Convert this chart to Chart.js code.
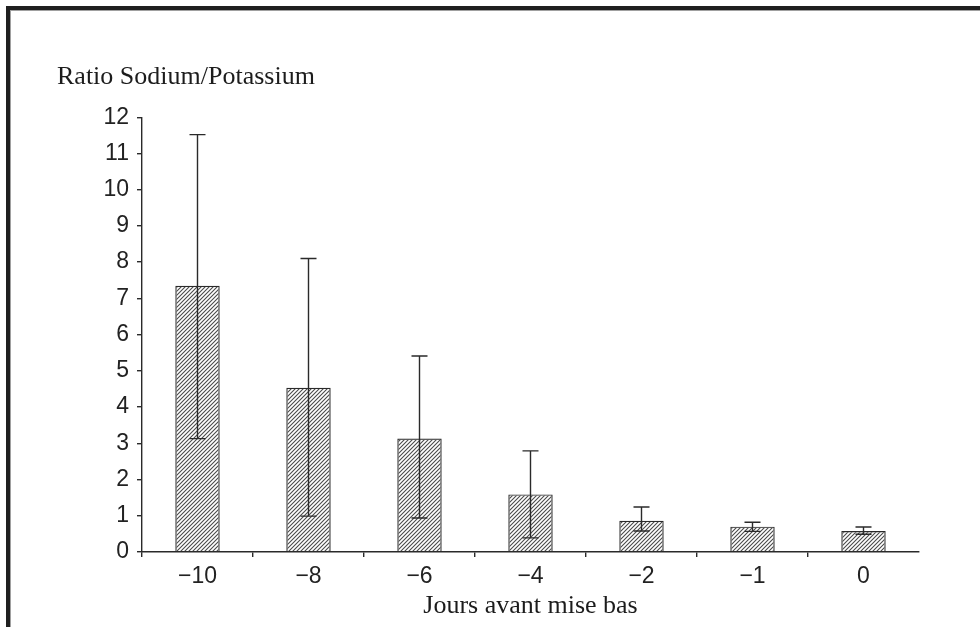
<!DOCTYPE html>
<html lang="fr">
<head>
<meta charset="utf-8">
<title>Ratio Sodium/Potassium</title>
<script src="https://cdn.jsdelivr.net/npm/chart.js@4/dist/chart.umd.min.js"></script>
<style>
  html, body { margin: 0; padding: 0; background: #fff; }
  .wrap { position: relative; width: 980px; height: 627px; overflow: hidden; }
  .frame {
    position: absolute; left: 6px; top: 6px; right: -10px; bottom: -10px;
    border-top: 4px solid #1f1f1f; border-left: 4px solid #1f1f1f;
    box-shadow: inset 1px 1px 0 #a0a0a0;
    pointer-events: none;
  }
  canvas { position: absolute; left: 0; top: 0; }
</style>
</head>
<body>
<div class="wrap">
  <canvas id="ratioChart" width="980" height="627"></canvas>
  <div class="frame"></div>
</div>
<script>
// jours avant mise bas
const days = ['\u221210', '\u22128', '\u22126', '\u22124', '\u22122', '\u22121', '0'];
// moyenne du ratio Na/K
const ratios = [7.35, 4.53, 3.13, 1.59, 0.86, 0.70, 0.58];
// bornes des barres d'erreur
const errHigh = [11.52, 8.10, 5.41, 2.79, 1.24, 0.82, 0.69];
const errLow = [3.13, 0.99, 0.94, 0.39, 0.58, 0.57, 0.49];
const yTicks = [0, 1, 2, 3, 4, 5, 6, 7, 8, 9, 10, 11, 12];

const ink = '#2a2a2a';
const sans = "'Liberation Sans', Arial, Helvetica, sans-serif";
const serif = "'Liberation Serif', 'Times New Roman', serif";

// hachures diagonales pour le remplissage des barres
function hatch() {
  const c = document.createElement('canvas');
  c.width = 4; c.height = 4;
  const g = c.getContext('2d');
  g.strokeStyle = '#4a4a4a';
  g.lineWidth = 1.1;
  g.beginPath();
  g.moveTo(-1, 5); g.lineTo(5, -1);
  g.moveTo(-1, 1); g.lineTo(1, -1);
  g.moveTo(3, 5); g.lineTo(5, 3);
  g.stroke();
  return g.createPattern(c, 'repeat');
}

// barres d'erreur tracées avec les échelles du graphique
const errorBars = {
  id: 'errorBars',
  afterDatasetsDraw(chart) {
    const { ctx, scales: { x, y } } = chart;
    const cap = 8;
    ctx.save();
    ctx.strokeStyle = ink;
    ctx.lineWidth = 1.4;
    days.forEach((d, i) => {
      const cx = x.getPixelForValue(i);
      const top = y.getPixelForValue(errHigh[i]);
      const bot = y.getPixelForValue(errLow[i]);
      ctx.beginPath();
      ctx.moveTo(cx, top); ctx.lineTo(cx, bot);
      ctx.moveTo(cx - cap, top); ctx.lineTo(cx + cap, top);
      ctx.moveTo(cx - cap, bot); ctx.lineTo(cx + cap, bot);
      ctx.stroke();
    });
    ctx.restore();
  }
};

new Chart(document.getElementById('ratioChart'), {
  type: 'bar',
  data: {
    labels: days,
    datasets: [{
      data: ratios,
      backgroundColor: hatch(),
      borderColor: ink,
      borderWidth: 1.2,
      borderSkipped: 'bottom',
      barPercentage: 0.4,
      categoryPercentage: 1
    }]
  },
  options: {
    responsive: false,
    animation: false,
    layout: { padding: { left: 57, right: 61, top: 0, bottom: 0 } },
    plugins: {
      legend: { display: false },
      tooltip: { enabled: false },
      title: {
        display: true,
        text: 'Ratio Sodium/Potassium',
        align: 'start',
        color: '#1c1c1c',
        font: { family: serif, size: 26, weight: 'normal' },
        padding: { top: 62, bottom: 24 }
      }
    },
    scales: {
      x: {
        offset: true,
        grid: {
          offset: true,
          drawOnChartArea: false,
          tickLength: 5,
          lineWidth: 1.4,
          color: (c) => (c.index === undefined ? 'rgba(0,0,0,0)' : ink)
        },
        border: { color: ink, width: 1.4 },
        ticks: { color: '#222', padding: 6, font: { family: sans, size: 23 } },
        title: {
          display: true,
          text: 'Jours avant mise bas',
          color: '#1c1c1c',
          font: { family: serif, size: 26, weight: 'normal' },
          padding: { top: 0, bottom: 5 }
        },
        afterFit: (s) => { s.height = 75; }
      },
      y: {
        min: 0,
        max: 12,
        afterBuildTicks: (s) => { s.ticks = yTicks.map((v) => ({ value: v })); },
        grid: { drawOnChartArea: false, tickLength: 5, lineWidth: 1.4, color: ink },
        border: { color: ink, width: 1.4 },
        ticks: { color: '#222', padding: 8, font: { family: sans, size: 23 } },
        afterFit: (s) => { s.width = 85; }
      }
    }
  },
  plugins: [errorBars]
});
</script>
</body>
</html>
